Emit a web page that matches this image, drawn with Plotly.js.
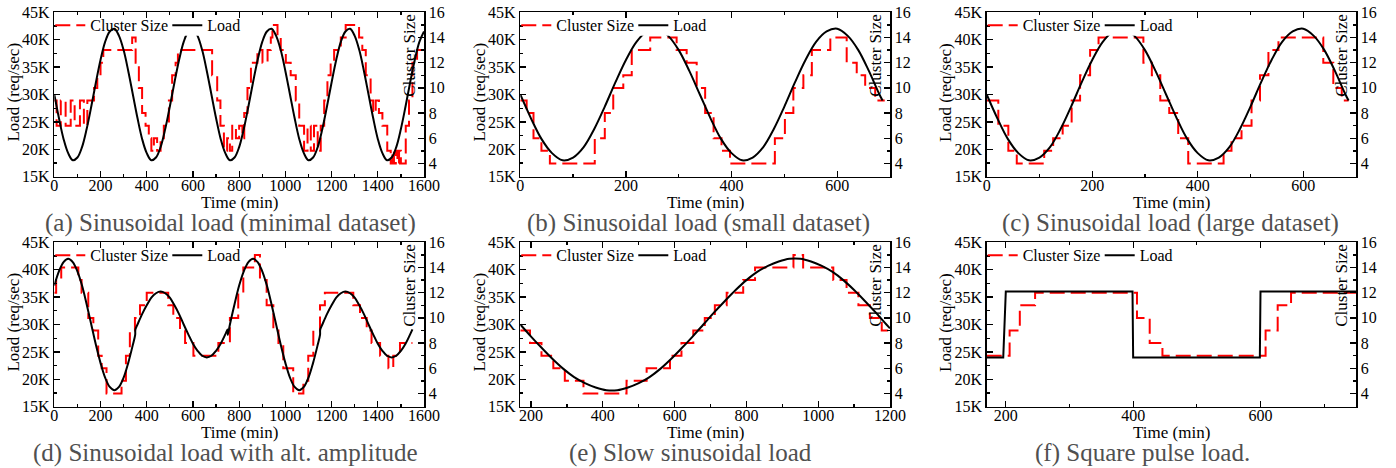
<!DOCTYPE html>
<html><head><meta charset="utf-8">
<script src="https://cdn.plot.ly/plotly-3.0.1.min.js"></script>
<style>html,body{margin:0;padding:0;background:#fff}#chart{width:1396px;height:468px}</style>
</head><body><div id="chart"></div>
<script>
// ---------------- data ----------------
const LOAD_TICK_VALS = [15000, 20000, 25000, 30000, 35000, 40000, 45000];
const LOAD_TICK_TEXT = ['15K', '20K', '25K', '30K', '35K', '40K', '45K'];

const CAPTIONS = [
  '(a) Sinusoidal load (minimal dataset)',
  '(b) Sinusoidal load (small dataset)',
  '(c) Sinusoidal load (large dataset)',
  '(d) Sinusoidal load with alt. amplitude',
  '(e) Slow sinusoidal load',
  '(f) Square pulse load.'
];

// (a) minimal dataset
const LOAD_A_T = [0,20,40,60,80,100,120,140,160,180,200,220,240,260,280,300,320,340,360,380,400,420,440,460,480,500,520,540,560,580,600,620,640,660,680,700,720,740,760,780,800,820,840,860,880,900,920,940,960,980,1000,1020,1040,1060,1080,1100,1120,1140,1160,1180,1200,1220,1240,1260,1280,1300,1320,1340,1360,1380,1400,1420,1440,1460,1480,1500,1520,1540,1560,1580,1600];
const LOAD_A_V = [30000,25700,21900,19300,18000,18500,20400,23700,27800,32200,36300,39600,41500,42000,40700,38100,34300,
  30000,25700,21900,19300,18000,18500,20400,23700,27800,32200,36300,39600,41500,42000,40700,38100,34300,
  30000,25700,21900,19300,18000,18500,20400,23700,27800,32200,36300,39600,41500,42000,40700,38100,34300,
  30000,25700,21900,19300,18000,18500,20400,23700,27800,32200,36300,39600,41500,42000,40700,38100,34300,
  30000,25700,21900,19300,18000,18500,20400,23700,27800,32200,36300,39600,41500];
const CLUSTER_A_T = [0,10,28,49,71,88,111,128,143,172,186,200,212,337,352,366,380,395,409,420,431,445,460,474,496,510,525,535,683,705,719,734,748,760,770,786,800,814,822,836,851,879,901,923,937,944,966,980,1002,1023,1045,1060,1081,1096,1110,1124,1140,1153,1168,1182,1196,1211,1240,1261,1319,1333,1348,1369,1380,1391,1405,1420,1441,1456,1463,1470,1478,1485,1492,1500,1521,1535,1550,1570,1600];
const CLUSTER_A_N = [9,7,9,7,9,7,9,7,9,10,11,12,13,14,12,10,8,7,6,5,6,5,6,7,9,11,12,13,11,9,7,5,6,5,7,6,7,6,8,10,12,13,12,13,14,15,14,13,12,11,9,7,5,7,5,7,5,7,9,11,12,13,14,15,14,13,11,9,8,9,8,7,5,4,5,4,5,4,5,4,7,9,12,13,13];

// (b) small dataset
const LOAD_B_T = [0,20,40,60,80,100,120,140,160,180,200,220,240,260,280,300,320,340,360,380,400,420,440,460,480,500,520,540,560,580,600,620,640,660,680,686];
const LOAD_B_V = [30000,25700,21900,19300,18000,18500,20400,23700,27800,32200,36300,39600,41500,42000,40700,38100,34300,
  30000,25700,21900,19300,18000,18500,20400,23700,27800,32200,36300,39600,41500,42000,40700,38100,34300,30000,28900];
const CLUSTER_B_T = [0,12,25,40,56,141,160,176,195,211,246,296,315,334,350,366,381,397,482,501,517,536,552,587,618,637,653,672,690];
const CLUSTER_B_N = [9,8,6,5,4,6,8,10,11,13,14,13,12,10,8,6,5,4,6,8,10,11,13,14,12,11,10,9,9];

// (c) large dataset
const LOAD_C_T = [0,20,40,60,80,100,120,140,160,180,200,220,240,260,280,300,320,340,360,380,400,420,440,460,480,500,520,540,560,580,600,620,640,660,680,686];
const LOAD_C_V = [30000,25700,21900,19300,18000,18500,20400,23700,27800,32200,36300,39600,41500,42000,40700,38100,34300,
  30000,25700,21900,19300,18000,18500,20400,23700,27800,32200,36300,39600,41500,42000,40700,38100,34300,30000,28900];
const CLUSTER_C_T = [0,22,41,57,109,126,144,161,177,196,212,297,313,329,346,363,382,449,464,483,502,518,534,553,638,657,673,686];
const CLUSTER_C_N = [9,7,5,4,5,6,7,9,11,13,14,12,11,9,8,6,4,5,6,7,9,11,13,14,12,10,9,9];

// (d) alternating amplitude
const LOAD_D_T = [0,20,40,60,80,100,120,140,160,180,200,220,240,260,280,300,320,340,350,
  351,360,380,400,420,440,460,480,500,520,540,560,580,600,620,640,660,680,700,720,740,750,
  751,760,780,800,820,840,860,880,900,920,940,960,980,1000,1020,1040,1060,1080,1100,1120,1140,1150,
  1151,1160,1180,1200,1220,1240,1260,1280,1300,1320,1340,1360,1380,1400,1420,1440,1460,1480,1500,1520,1540,1550];
const LOAD_D_V = [37100,39700,41400,42000,41400,39700,37100,33700,30000,26300,23000,20300,18600,18000,18600,20300,23000,26300,28100,
  29100,30000,31900,33500,34900,35700,36000,35700,34900,33500,31900,30000,28200,26500,25200,24300,24000,24300,25200,26500,28200,29100,
  28100,30000,33700,37100,39700,41400,42000,41400,39700,37100,33700,30000,26300,23000,20300,18600,18000,18600,20300,23000,26300,28100,
  29100,30000,31900,33500,34900,35700,36000,35700,34900,33500,31900,30000,28200,26500,25200,24300,24000,24300,25200,26500,28200,29100];
const CLUSTER_D_T = [0,8,30,104,118,147,169,190,205,226,291,310,327,349,371,400,493,515,544,566,602,710,760,796,818,868,890,919,948,970,991,1034,1078,1099,1121,1150,1171,1294,1323,1352,1373,1410,1446,1467,1496,1550];
const CLUSTER_D_N = [12,13,14,13,12,10,9,7,6,4,5,7,9,10,11,12,11,10,9,8,7,8,10,12,14,15,13,11,9,8,6,4,5,7,9,11,12,11,10,9,8,7,6,7,8,8];

// (e) slow sinusoidal
const LOAD_E_T = [170,200,230,260,290,320,350,380,410,440,470,500,530,560,590,620,650,680,710,740,770,800,830,860,890,920,950,980,1010,1040,1070,1100,1130,1160,1190,1200];
const LOAD_E_V = [30000,27800,25700,23700,21900,20400,19300,18500,18000,18000,18500,19300,20400,21900,23700,25700,27800,30000,32200,34300,36300,38100,39600,40700,41500,42000,42000,41500,40700,39600,38100,36300,34300,32200,30000,29300];
const CLUSTER_E_T = [170,197,229,262,294,346,466,522,587,619,652,684,712,745,791,824,931,958,1042,1079,1112,1144,1177,1200];
const CLUSTER_E_N = [9,8,7,6,5,4,5,6,7,8,9,10,11,12,13,14,15,14,13,12,11,10,9,9];

// (f) square pulse
const LOAD_F_T = [170,196,200,399,400,599,600,750];
const LOAD_F_V = [24000,24000,36000,36000,24000,24000,36000,36000];
const CLUSTER_F_T = [170,206,222,246,406,426,446,608,627,648,750];
const CLUSTER_F_N = [7,9,11,12,10,8,7,9,11,12,12];

// ---------------- layout configuration ----------------
const W = 1396, H = 468;
const FONT = 'Liberation Serif, "Times New Roman", Times, serif';
const panels = [
  {L:54.3,  R:424,  T:12.3,  B:176.7, xr:[0,1600],   capX:230,  lt:LOAD_A_T, lv:LOAD_A_V, ct:CLUSTER_A_T, cn:CLUSTER_A_N, shape:'spline'},
  {L:520.3, R:890,  T:12.3,  B:176.7, xr:[0,700],    capX:698,  lt:LOAD_B_T, lv:LOAD_B_V, ct:CLUSTER_B_T, cn:CLUSTER_B_N, shape:'spline'},
  {L:986.7, R:1356, T:12.3,  B:176.7, xr:[0,700],    capX:1170, lt:LOAD_C_T, lv:LOAD_C_V, ct:CLUSTER_C_T, cn:CLUSTER_C_N, shape:'spline'},
  {L:54.3,  R:424,  T:242.3, B:406.7, xr:[0,1600],   capX:225,  lt:LOAD_D_T, lv:LOAD_D_V, ct:CLUSTER_D_T, cn:CLUSTER_D_N, shape:'spline'},
  {L:520.3, R:890,  T:242.3, B:406.7, xr:[170,1200], capX:690,  lt:LOAD_E_T, lv:LOAD_E_V, ct:CLUSTER_E_T, cn:CLUSTER_E_N, shape:'spline'},
  {L:986.7, R:1356, T:242.3, B:406.7, xr:[170,750],  capX:1142, lt:LOAD_F_T, lv:LOAD_F_V, ct:CLUSTER_F_T, cn:CLUSTER_F_N, shape:'linear'}
];

const px = v => v / W;
const py = v => 1 - v / H;
const tickFont = {family: FONT, size: 16, color: '#000'};
const axisCommon = {
  ticks: 'inside', ticklen: 6, tickwidth: 1.3, tickcolor: '#000',
  showline: true, linewidth: 1.5, linecolor: '#000',
  showgrid: false, zeroline: false, tickfont: tickFont, fixedrange: true
};
const minorCommon = {ticks: 'inside', ticklen: 3, tickwidth: 1.3, tickcolor: '#000', showgrid: false};

const traces = [];
const layout = {
  width: W, height: H, margin: {l: 0, r: 0, t: 0, b: 0},
  paper_bgcolor: '#fff', plot_bgcolor: '#fff',
  showlegend: true, annotations: [], shapes: []
};

function legName(i) { return i === 0 ? 'legend' : 'legend' + (i + 1); }
function ann(text, x, y, size, angle, color) {
  layout.annotations.push({
    text: text, xref: 'paper', yref: 'paper', x: px(x), y: py(y),
    xanchor: 'center', yanchor: 'middle', showarrow: false, textangle: angle || 0,
    borderpad: 0, font: {family: FONT, size: size, color: color || '#000'}
  });
}

panels.forEach((p, i) => {
  const xn = i === 0 ? 'x' : 'x' + (i + 1);
  const xk = i === 0 ? 'xaxis' : 'xaxis' + (i + 1);
  const ybN = 2 * i + 1, yoN = 2 * i + 2;
  const yb = ybN === 1 ? 'y' : 'y' + ybN;
  const yo = 'y' + yoN;
  const ybk = ybN === 1 ? 'yaxis' : 'yaxis' + ybN;
  const yok = 'yaxis' + yoN;

  layout[xk] = Object.assign({}, axisCommon, {
    domain: [px(p.L), px(p.R)], anchor: yb, range: p.xr,
    tickmode: 'linear', tick0: 0, dtick: 200, mirror: 'ticks', ticklabelstandoff: -6,
    minor: Object.assign({}, minorCommon, {tickmode: 'linear', tick0: 0, dtick: 100})
  });
  // right axis: cluster size (base)
  layout[ybk] = Object.assign({}, axisCommon, {
    domain: [py(p.B), py(p.T)], anchor: xn, side: 'right', range: [2.95, 16],
    tickmode: 'linear', tick0: 0, dtick: 2,
    minor: Object.assign({}, minorCommon, {tickmode: 'linear', tick0: 0, dtick: 1})
  });
  // left axis: load (overlay, so the load curve is drawn on top)
  layout[yok] = Object.assign({}, axisCommon, {
    overlaying: yb, anchor: xn, side: 'left', range: [15000, 45000],
    tickmode: 'array', tickvals: LOAD_TICK_VALS, ticktext: LOAD_TICK_TEXT,
    minor: Object.assign({}, minorCommon, {tickmode: 'linear', tick0: 0, dtick: 2500})
  });

  traces.push({
    type: 'scatter', mode: 'lines', name: 'Cluster Size', x: p.ct, y: p.cn,
    xaxis: xn, yaxis: yb, legend: legName(2 * i),
    line: {color: '#ff0000', width: 2, dash: '15px,6px', shape: 'hv'}, hoverinfo: 'skip'
  });
  traces.push({
    type: 'scatter', mode: 'lines', name: 'Load', x: p.lt, y: p.lv,
    xaxis: xn, yaxis: yo, legend: legName(2 * i + 1),
    line: {color: '#000', width: 2, shape: p.shape}, hoverinfo: 'skip'
  });

  const legCommon = {
    xref: 'paper', yref: 'paper', xanchor: 'left', yanchor: 'middle', orientation: 'h',
    bgcolor: 'rgba(0,0,0,0)', borderwidth: 0, itemwidth: 30,
    font: {family: FONT, size: 16, color: '#000'}
  };
  layout[legName(2 * i)] = Object.assign({}, legCommon, {x: px(p.L - 4), y: py(p.T + 13)});
  layout[legName(2 * i + 1)] = Object.assign({}, legCommon, {x: px(p.L + 113), y: py(p.T + 13)});

  // white backing behind the "Load" legend entry (hides the curve there, as in the original)
  layout.shapes.push({
    type: 'rect', xref: 'paper', yref: 'paper', layer: 'above',
    x0: px(p.L + 118), x1: px(p.L + 186), y0: py(p.T + 23.5), y1: py(p.T + 6.5),
    fillcolor: '#fff', line: {width: 0}
  });

  ann('Load (req/sec)', p.L - 41, p.T + 80, 17, -90);
  ann('Time (min)', (p.L + p.R) / 2, p.B + 25.5, 17, 0);
  ann('Cluster Size', p.R - 14.5, p.T + 43, 17, -90);
  ann(CAPTIONS[i], p.capX, p.B + 46.5, 25, 0, '#505050');
});

Plotly.newPlot('chart', traces, layout, {staticPlot: true, displayModeBar: false});
</script></body></html>
